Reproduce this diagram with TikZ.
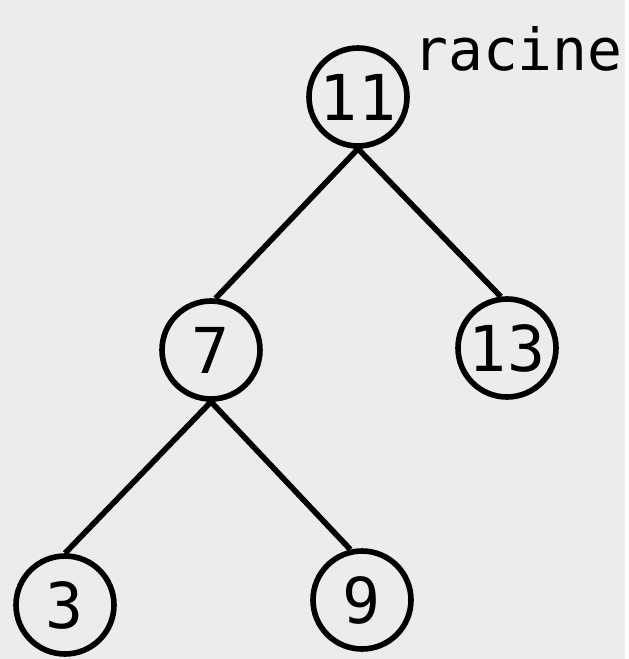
\documentclass[tikz,border=0pt]{standalone}
\usepackage{fontspec}
\newfontfamily\treefont{DejaVu Sans Mono}
\tikzset{
  key/.style={circle, draw, line width=3.2pt, minimum size=1.96cm, inner sep=0pt,
    font=\treefont\fontsize{36}{36}\selectfont},
  branch/.style={line width=3.2pt, shorten <=-0.1cm},
  lbl/.style={font=\treefont\fontsize{33}{33}\selectfont},
}
\definecolor{paper}{RGB}{236,236,236}

\begin{document}
\begin{tikzpicture}[x=0.02cm, y=-0.02cm]
  \fill[paper] (0,0) rectangle (625,659);
  % keys of the tree
  \node[key] (k11) at (358,97) {11};
  \node[key] (k7) at (211,350) {7};
  \node[key] (k13) at (507,348) {13};
  \node[key] (k3) at (65,605) {3};
  \node[key] (k9) at (362,600) {9};
  \node[lbl, anchor=base west] (root) at (407,70) {racine};
  % branches, parent bottom to child top
  \draw[branch] (k11.south) -- (k7.85);
  \draw[branch] (k11.south) -- (k13.97);
  \draw[branch] (k7.south) -- (k3.north);
  \draw[branch] (k7.south) -- (k9.103);
\end{tikzpicture}
\end{document}
